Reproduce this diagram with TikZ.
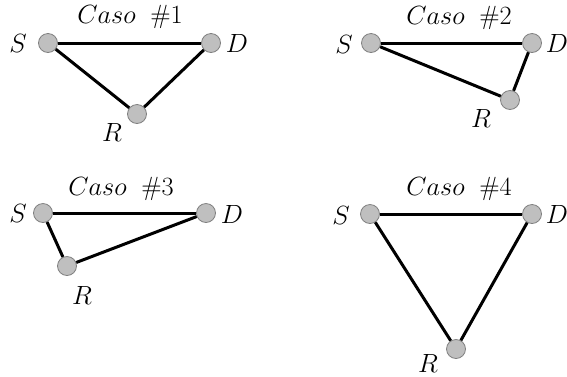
\documentclass[tikz,border=0pt]{standalone}
\usepackage{graphicx}
\newcommand{\mylbl}[1]{\scalebox{1.27}{\huge$#1$}}
\begin{document}
\begin{tikzpicture}[x=1pt,y=-1pt,
  nd/.style={circle,fill=black!25,draw=black!50,line width=0.8pt,minimum size=19pt,inner sep=0pt},
  lnk/.style={line width=3pt,black},
  lbl/.style={inner sep=0pt},
  ttl/.style={inner sep=0pt}]
\useasboundingbox (0,0) rectangle (567,376);
% Case 1
\node[ttl] (t1) at (130,17) {\mylbl{Caso\;\;\#1}};
\node[nd] (s1) at (48,43) {};
\node[nd] (d1) at (211,43) {};
\node[nd] (r1) at (137,114) {};
\node[lbl] (ls1) at (18,43) {\mylbl{S}};
\node[lbl] (ld1) at (237,43) {\mylbl{D}};
\node[lbl] (lr1) at (112,132) {\mylbl{R}};
\draw[lnk] (s1) -- (d1);
\draw[lnk] (s1) -- (r1);
\draw[lnk] (r1) -- (d1);
% Case 2
\node[ttl] (t2) at (459,18) {\mylbl{Caso\;\;\#2}};
\node[nd] (s2) at (371,43) {};
\node[nd] (d2) at (532,43) {};
\node[nd] (r2) at (510,100) {};
\node[lbl] (ls2) at (344,44) {\mylbl{S}};
\node[lbl] (ld2) at (557,43) {\mylbl{D}};
\node[lbl] (lr2) at (481,118) {\mylbl{R}};
\draw[lnk] (s2) -- (d2);
\draw[lnk] (s2) -- (r2);
\draw[lnk] (r2) -- (d2);
% Case 3
\node[ttl] (t3) at (121,189) {\mylbl{Caso\;\;\#3}};
\node[nd] (s3) at (43,213) {};
\node[nd] (d3) at (206,213) {};
\node[nd] (r3) at (67,266) {};
\node[lbl] (ls3) at (18,213) {\mylbl{S}};
\node[lbl] (ld3) at (232,214) {\mylbl{D}};
\node[lbl] (lr3) at (82,295) {\mylbl{R}};
\draw[lnk] (s3) -- (d3);
\draw[lnk] (s3) -- (r3);
\draw[lnk] (r3) -- (d3);
% Case 4
\node[ttl] (t4) at (459,189) {\mylbl{Caso\;\;\#4}};
\node[nd] (s4) at (370,214) {};
\node[nd] (d4) at (532,214) {};
\node[nd] (r4) at (456,349) {};
\node[lbl] (ls4) at (341,215) {\mylbl{S}};
\node[lbl] (ld4) at (557,214) {\mylbl{D}};
\node[lbl] (lr4) at (428,363) {\mylbl{R}};
\draw[lnk] (s4) -- (d4);
\draw[lnk] (s4) -- (r4);
\draw[lnk] (r4) -- (d4);
\end{tikzpicture}
\end{document}
